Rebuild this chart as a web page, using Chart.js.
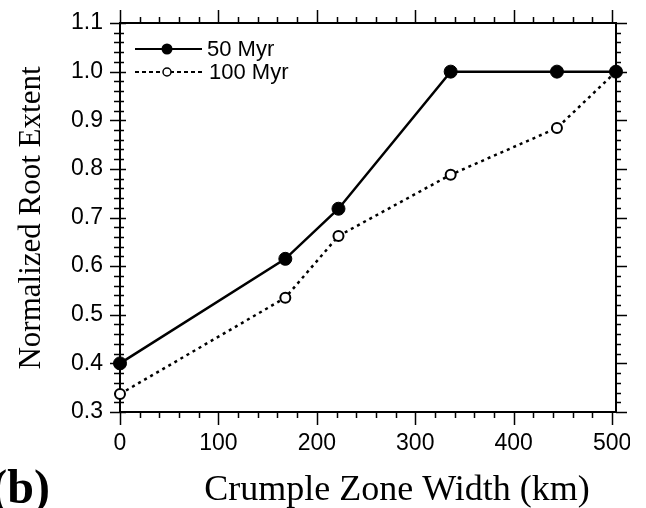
<!DOCTYPE html>
<html>
<head>
<title>Normalized Root Extent</title>
<script src="https://cdn.jsdelivr.net/npm/chart.js"></script>
<style>
  body { margin: 0; background: #fff; }
  #wrap { width: 630px; height: 508px; }
</style>
</head>
<body>
<div id="wrap"><canvas id="chart"></canvas></div>
<script>
var widths = [0, 168, 222, 336, 444, 504];
var myr50 = [0.40, 0.615, 0.718, 1.0, 1.0, 1.0];
var myr100 = [0.337, 0.535, 0.662, 0.788, 0.884, 1.0];
var seriesNames = ['50 Myr', '100 Myr'];
var xTickVals = [0, 100, 200, 300, 400, 500];
var yTickVals = [0.3, 0.4, 0.5, 0.6, 0.7, 0.8, 0.9, 1.0, 1.1];
var xTitle = 'Crumple Zone Width (km)';
var yTitle = 'Normalized Root Extent';
var panelTag = '(b)';

var sans = '"Liberation Sans", Arial, sans-serif';
var serif = '"Liberation Serif", "Times New Roman", serif';

function pts(ys) {
  return widths.map(function(x, i) { return { x: x, y: ys[i] }; });
}

// frame + ticks on all four sides, minor ticks every 20 km / 0.02
var framePlugin = {
  id: 'frame',
  beforeDatasetsDraw: function(chart) {
    var ctx = chart.ctx, a = chart.chartArea;
    var xs = chart.scales.x, ys = chart.scales.y;
    ctx.save();
    ctx.strokeStyle = '#000';
    ctx.lineWidth = 2;
    ctx.strokeRect(a.left, a.top, a.right - a.left, a.bottom - a.top);
    ctx.lineWidth = 1.5;
    ctx.beginPath();
    for (var i = 0; i * 20 <= xs.max; i++) {
      var px = Math.round(xs.getPixelForValue(i * 20)) + 0.5;
      var big = i % 5 === 0;
      ctx.moveTo(px, a.bottom); ctx.lineTo(px, a.bottom + (big ? 13 : 6));
      ctx.moveTo(px, a.top); ctx.lineTo(px, a.top - (big ? 13 : 6));
    }
    for (var j = 0; j <= 40; j++) {
      var py = Math.round(ys.getPixelForValue(0.3 + j * 0.02)) + 0.5;
      var major = j % 5 === 0;
      ctx.moveTo(a.left - (major ? 10 : 6), py); ctx.lineTo(a.left + (major ? 6 : 4), py);
      ctx.moveTo(a.right, py); ctx.lineTo(a.right + (major ? 11 : 5), py);
    }
    ctx.stroke();
    ctx.restore();
  },
  afterDraw: function(chart) {
    var ctx = chart.ctx;
    ctx.save();
    ctx.fillStyle = '#000';

    // legend
    var rows = [49, 72];
    chart.data.datasets.forEach(function(ds, k) {
      var y = rows[k];
      ctx.strokeStyle = '#000';
      ctx.lineWidth = 2;
      ctx.setLineDash(k === 0 ? [] : [4, 3]);
      ctx.beginPath();
      ctx.moveTo(135, y); ctx.lineTo(202, y);
      ctx.stroke();
      ctx.setLineDash([]);
      ctx.beginPath();
      if (k === 0) {
        ctx.arc(167, y, 5.5, 0, Math.PI * 2);
        ctx.fillStyle = '#000';
        ctx.fill();
      } else {
        ctx.arc(167, y, 4, 0, Math.PI * 2);
        ctx.fillStyle = '#fff';
        ctx.fill();
        ctx.lineWidth = 1.5;
        ctx.stroke();
      }
      ctx.fillStyle = '#000';
      ctx.font = '22px ' + sans;
      ctx.textAlign = 'left';
      ctx.textBaseline = 'middle';
      ctx.fillText(ds.label, k === 0 ? 207 : 209, y + 1);
    });

    // axis titles
    ctx.font = '36px ' + serif;
    ctx.textAlign = 'center';
    ctx.textBaseline = 'alphabetic';
    ctx.fillText(xTitle, 397, 500);

    ctx.save();
    ctx.translate(40, 218);
    ctx.rotate(-Math.PI / 2);
    ctx.font = '31px ' + serif;
    ctx.fillText(yTitle, 0, 0);
    ctx.restore();

    ctx.font = 'bold 48px ' + serif;
    ctx.textAlign = 'right';
    ctx.fillText(panelTag, 50, 503);
    ctx.restore();
  }
};

new Chart(document.getElementById('chart'), {
  type: 'line',
  data: {
    datasets: [
      {
        label: seriesNames[0],
        data: pts(myr50),
        borderColor: '#000',
        borderWidth: 2.5,
        pointRadius: 6.5,
        pointBackgroundColor: '#000',
        pointBorderColor: '#000',
        pointBorderWidth: 1,
        tension: 0,
        clip: false
      },
      {
        label: seriesNames[1],
        data: pts(myr100),
        borderColor: '#000',
        borderWidth: 2.5,
        borderDash: [3, 4],
        pointRadius: 5,
        pointBackgroundColor: '#fff',
        pointBorderColor: '#000',
        pointBorderWidth: 2,
        tension: 0,
        clip: false
      }
    ]
  },
  options: {
    responsive: true,
    maintainAspectRatio: false,
    animation: false,
    devicePixelRatio: 1,
    layout: { padding: { top: 23, right: 14, left: 0, bottom: 0 } },
    plugins: { legend: { display: false }, tooltip: { enabled: false } },
    scales: {
      x: {
        type: 'linear',
        min: 0,
        max: 504,
        grid: { display: false, drawTicks: false },
        border: { display: false },
        afterBuildTicks: function(s) {
          s.ticks = xTickVals.map(function(v) { return { value: v }; });
        },
        ticks: {
          maxRotation: 0,
          autoSkip: false,
          padding: 18,
          color: '#000',
          font: { family: sans, size: 23 }
        },
        afterFit: function(s) {
          s.height = 96;
          s.paddingLeft = 0;
          s.paddingRight = 0;
        }
      },
      y: {
        min: 0.3,
        max: 1.1,
        grid: { display: false, drawTicks: false },
        border: { display: false },
        afterBuildTicks: function(s) {
          s.ticks = yTickVals.map(function(v) { return { value: v }; });
        },
        ticks: {
          autoSkip: false,
          padding: 17,
          color: '#000',
          font: { family: sans, size: 23 },
          callback: function(v) { return Number(v).toFixed(1); }
        },
        afterFit: function(s) {
          s.width = 120;
          s.paddingTop = 0;
          s.paddingBottom = 0;
        }
      }
    }
  },
  plugins: [framePlugin]
});
</script>
</body>
</html>
